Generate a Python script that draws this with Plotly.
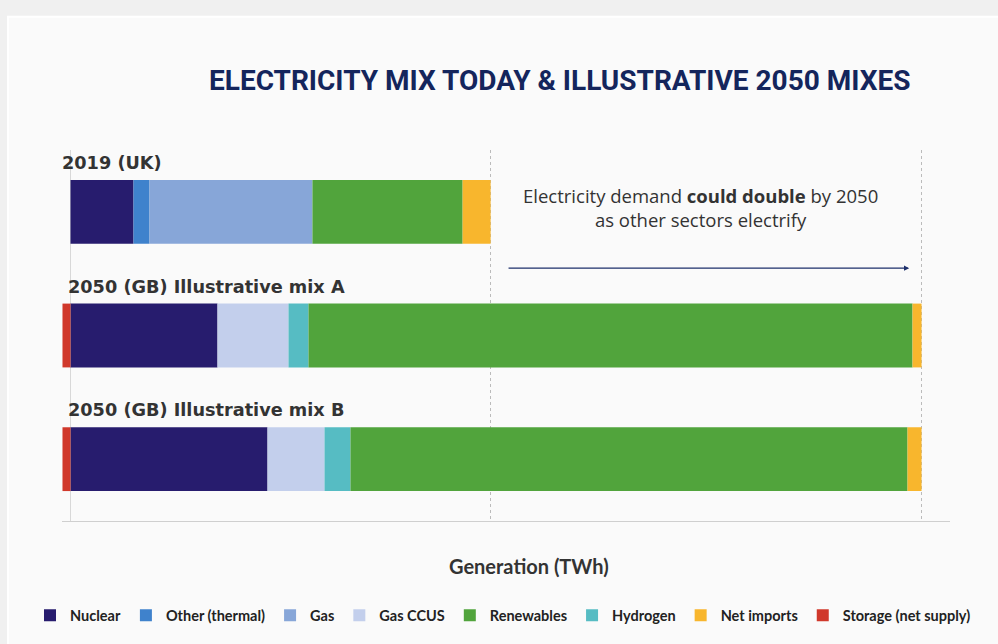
import plotly.graph_objects as go

categories = ["2019 (UK)", "2050 (GB) Illustrative mix A", "2050 (GB) Illustrative mix B"]
nuclear = [49.5, 115.5, 154.8]
other_thermal = [12.6, 0, 0]
gas = [128.0, 0, 0]
gas_ccus = [0, 55.8, 44.8]
hydrogen = [0, 15.7, 20.4]
renewables = [118.0, 474.6, 437.7]
net_imports = [22.0, 7.1, 11.0]
storage = [0, -6.3, -6.3]
grid_values = [0, 330, 669]

# stacking order (left to right) and legend order
series = [
    ("Nuclear", nuclear, "#271c6e", 1),
    ("Other (thermal)", other_thermal, "#3f82cc", 2),
    ("Gas", gas, "#87a6d8", 3),
    ("Gas CCUS", gas_ccus, "#c3cfec", 4),
    ("Hydrogen", hydrogen, "#56bcc3", 6),
    ("Renewables", renewables, "#51a43c", 5),
    ("Net imports", net_imports, "#f8b62d", 7),
    ("Storage (net supply)", storage, "#d0382b", 8),
]

fig = go.Figure()
for name, vals, col, rank in series:
    fig.add_trace(go.Bar(
        y=categories, x=vals, name="<b>" + name + "</b>", orientation="h",
        marker=dict(color=col, line=dict(width=0)), legendrank=rank,
        hovertemplate=name + ": %{x} TWh<extra></extra>",
    ))

L, R, T, B = 62, 48, 149.5, 122.5
W, H = 998, 644
pw, ph = W - L - R, H - T - B

def px_x(p):
    return (p - L) / pw

def px_y(p):
    return (H - B - p) / ph

annotations = []
# title
annotations.append(dict(
    text="<b>ELECTRICITY MIX TODAY & ILLUSTRATIVE 2050 MIXES</b>",
    xref="paper", yref="paper", x=px_x(559), y=px_y(80), showarrow=False,
    xanchor="center", yanchor="middle",
    font=dict(family="Roboto", size=28, color="#14255c")))
# category labels
label_x = [60, 66, 66]
for cat, lx in zip(categories, label_x):
    annotations.append(dict(
        text="<b>" + cat + "</b>", xref="paper", yref="y", x=px_x(lx), y=cat,
        yshift=49, showarrow=False, xanchor="left", yanchor="middle",
        font=dict(family="DejaVu Sans", size=17.7, color="#333333")))
# demand text
annotations.append(dict(
    text="Electricity demand <b>could double</b> by 2050<br>as other sectors electrify",
    xref="x", yref="paper", x=495, y=px_y(207), showarrow=False,
    xanchor="center", yanchor="middle", align="center",
    font=dict(family="Open Sans", size=18.5, color="#333333")))
# arrow
annotations.append(dict(
    text="", xref="x", yref="paper", x=659, y=px_y(268),
    axref="x", ayref="pixel", ax=343, ay=0,
    showarrow=True, arrowhead=2, arrowsize=0.8, arrowwidth=1.3, arrowcolor="#1d2f6b"))
# axis title
annotations.append(dict(
    text="<b>Generation (TWh)</b>", xref="paper", yref="paper", x=px_x(529), y=px_y(567),
    showarrow=False, xanchor="center", yanchor="middle",
    font=dict(family="Lato", size=20, color="#333333")))

shapes = [dict(
    type="rect", xref="paper", yref="paper", layer="below",
    x0=px_x(8), x1=px_x(1000), y0=px_y(646), y1=px_y(16),
    fillcolor="#fafafa", line=dict(color="#ffffff", width=2))]

x_min = (L - 70.5) / 1.2727
x_max = (W - R - 70.5) / 1.2727

fig.update_layout(
    width=W, height=H,
    margin=dict(l=L, r=R, t=T, b=B, pad=0),
    paper_bgcolor="#f0f0f0", plot_bgcolor="rgba(0,0,0,0)",
    barmode="relative", bargap=0.484,
    showlegend=True,
    legend=dict(orientation="h", x=px_x(30), y=px_y(616), xanchor="left", yanchor="middle",
                font=dict(family="Lato", size=14.5, color="#222222"),
                bgcolor="rgba(0,0,0,0)", itemwidth=30, traceorder="normal"),
    xaxis=dict(range=[x_min, x_max], tickvals=grid_values, showticklabels=False,
               showgrid=True, gridcolor="#bbbbbb", griddash="dot", gridwidth=1,
               zeroline=True, zerolinecolor="#d8d8d8", zerolinewidth=1,
               showline=True, linecolor="#cfcfcf", linewidth=1, ticks=""),
    yaxis=dict(autorange="reversed", showticklabels=False, showgrid=False, zeroline=False,
               categoryorder="array", categoryarray=categories),
    annotations=annotations, shapes=shapes,
)

fig.write_html("out.html")
